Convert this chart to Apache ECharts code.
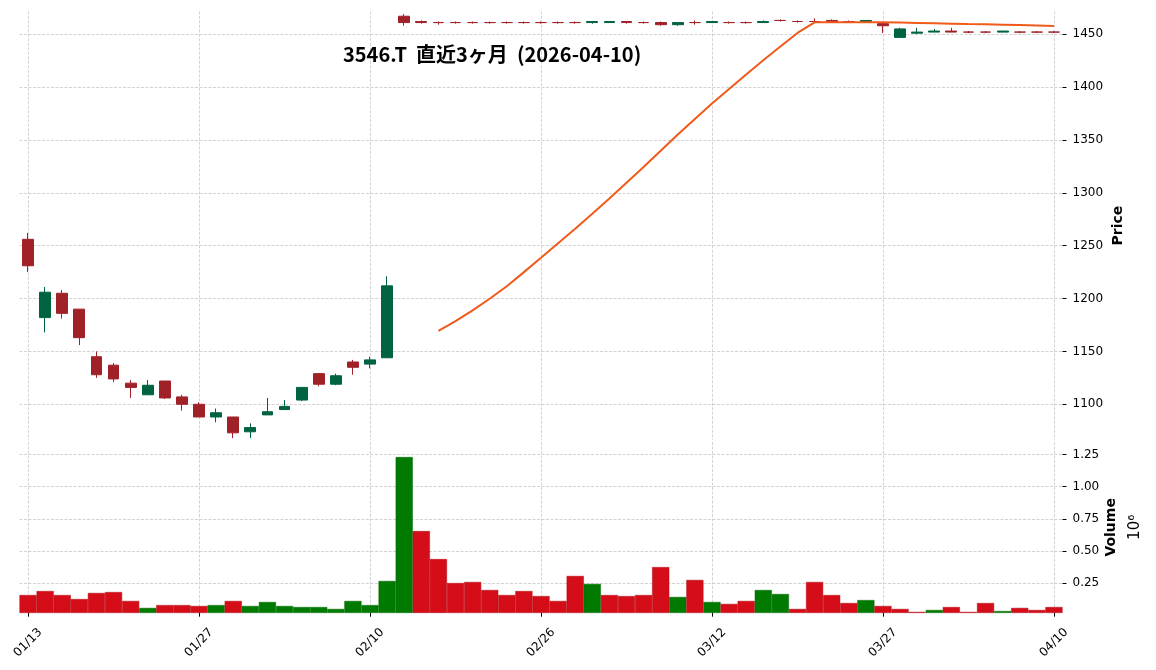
<!DOCTYPE html>
<html><head><meta charset="utf-8">
<script src="https://cdn.jsdelivr.net/npm/echarts@6/dist/echarts.min.js"></script>
<style>html,body{margin:0;padding:0;background:#fff}#c{width:1156px;height:670px}</style>
</head><body><div id="c"></div>
<script>
const dates = ['01/13','01/14','01/15','01/16','01/19','01/20','01/21','01/22','01/23','01/26',
'01/27','01/28','01/29','01/30','02/02','02/03','02/04','02/05','02/06','02/09',
'02/10','02/12','02/13','02/16','02/17','02/18','02/19','02/20','02/24','02/25',
'02/26','02/27','03/02','03/03','03/04','03/05','03/06','03/09','03/10','03/11',
'03/12','03/13','03/16','03/17','03/18','03/19','03/23','03/24','03/25','03/26',
'03/27','03/30','03/31','04/01','04/02','04/03','04/06','04/07','04/08','04/09',
'04/10'];
const opens = [1256,1182,1205,1190,1145,1137,1120,1109,1122,1107,
1100,1088,1088,1074,1090,1095,1104,1129,1119,1140,
1138,1144,1467,1462,1461,1461,1461,1461,1461,1461,
1461,1461,1461,1461,1461,1462,1461,1461,1459,1461,
1461,1461,1461,1461,1463,1462,1462,1463,1462,1462,
1460,1447,1451,1452,1453,1452,1452,1452,1452,1452,
1452];
const closes = [1231,1206,1186,1163,1128,1124,1116,1118,1106,1100,
1088,1092,1073,1078,1093,1098,1116,1119,1127,1135,
1142,1212,1461,1461,1461,1461,1461,1461,1461,1461,
1461,1461,1461,1462,1462,1461,1461,1459,1461,1461,
1462,1461,1461,1462,1463,1462,1462,1462,1462,1463,
1458,1455,1452,1453,1452,1452,1452,1453,1452,1452,
1452];
const lows = [1225,1168,1181,1156,1125,1121,1106,1109,1105,1094,
1088,1083,1068,1068,1090,1095,1103,1117,1118,1128,
1134,1144,1458,1460,1459,1460,1460,1460,1460,1460,
1460,1460,1460,1460,1461,1460,1460,1458,1458,1459,
1461,1460,1460,1461,1462,1461,1461,1461,1461,1462,
1451,1447,1450,1452,1452,1451,1451,1452,1451,1451,
1451];
const highs = [1262,1211,1208,1190,1150,1139,1123,1123,1122,1109,
1102,1096,1088,1082,1106,1104,1116,1129,1129,1142,
1145,1221,1469,1463,1462,1462,1462,1462,1462,1462,
1462,1462,1462,1462,1462,1462,1462,1462,1461,1463,
1462,1462,1462,1463,1464,1463,1465,1464,1463,1463,
1461,1456,1456,1455,1456,1453,1453,1453,1453,1453,
1453];
const volumes = [159000,190000,159000,128000,175000,182000,113000,59000,81000,81000,
74000,81000,113000,74000,105000,74000,66000,66000,51000,113000,
81000,268000,1229000,655000,438000,252000,260000,198000,159000,190000,
151000,113000,307000,245000,159000,151000,159000,376000,144000,276000,
105000,90000,113000,198000,167000,51000,260000,159000,97000,120000,
74000,51000,28000,43000,66000,28000,97000,35000,59000,43000,
66000];
const ma25 = [null,null,null,null,null,null,null,null,null,null,
null,null,null,null,null,null,null,null,null,null,
null,null,null,null,1169.4,1178.6,1188.8,1199.8,1211.7,1225.0,
1238.5,1252.3,1266.0,1280.2,1294.7,1309.6,1324.4,1339.8,1355.1,1369.9,
1384.4,1398.2,1411.9,1425.3,1438.4,1451.2,1461.2,1461.3,1461.3,1461.4,
1461.3,1461.0,1460.7,1460.4,1460.0,1459.6,1459.3,1459.0,1458.6,1458.2,
1457.8];
const titleText = '3546.T  直近3ヶ月  (2026-04-10)';

const UP = '#006340', DOWN = '#a02128', VUP = '#007a00', VDOWN = '#d50d18', MAC = '#f05a1a';
const GRIDLINE = {color: '#c8c8c8', width: 0.8, type: [3, 1.5]};
const FONT = 'DejaVu Sans';

const candleData = dates.map((d, i) => {
  const item = {value: [opens[i], closes[i], lows[i], highs[i]]};
  if (opens[i] === closes[i]) {
    item.itemStyle = {color: DOWN, color0: DOWN, borderColor: DOWN, borderColor0: DOWN};
  }
  return item;
});
const volData = volumes.map((v, i) => {
  const up = i === 0 ? opens[0] < closes[0] : closes[i - 1] < closes[i];
  return {value: v, itemStyle: {color: up ? VUP : VDOWN, borderColor: up ? '#006a00' : '#b00a14', borderWidth: 0.5}};
});

const chart = echarts.init(document.getElementById('c'), null, {renderer: 'canvas'});
chart.setOption({
  animation: false,
  backgroundColor: '#fff',
  title: {text: titleText, left: 338, top: 39,
    textStyle: {fontFamily: 'Noto Sans CJK JP', fontWeight: 'bold', fontSize: 20, color: '#000'}},
  grid: [
    {left: 19.5, right: 93.5, top: 11.3, height: 428.7},
    {left: 19.5, right: 93.5, top: 442, height: 170.7}
  ],
  xAxis: [
    {type: 'category', gridIndex: 0, data: dates, boundaryGap: true,
     axisLine: {show: false}, axisTick: {show: false}, axisLabel: {show: false},
     splitLine: {show: true, interval: 9, alignWithLabel: true, lineStyle: GRIDLINE}},
    {type: 'category', gridIndex: 1, data: dates, boundaryGap: true,
     axisLine: {show: false},
     axisTick: {show: true, interval: 9, alignWithLabel: true, length: 4, lineStyle: {color: '#000', width: 1}},
     axisLabel: {interval: 9, rotate: 45, align: 'center', verticalAlign: 'middle', margin: 30,
       fontFamily: FONT, fontSize: 12, color: '#000'},
     splitLine: {show: true, interval: 9, alignWithLabel: true, lineStyle: GRIDLINE}}
  ],
  yAxis: [
    {type: 'value', gridIndex: 0, position: 'right', min: 1066.24, max: 1471.66,
     minInterval: 50, maxInterval: 50, scale: true,
     axisLine: {show: false},
     axisTick: {show: true, length: 4, lineStyle: {color: '#000', width: 1}},
     axisLabel: {margin: 10, showMinLabel: false, showMaxLabel: false, fontFamily: FONT, fontSize: 12, color: '#000',
       formatter: v => String(Math.round(v))},
     splitLine: {show: true, showMinLine: false, showMaxLine: false, lineStyle: GRIDLINE},
     name: 'Price', nameLocation: 'middle', nameRotate: 90, nameGap: 49, nameMoveOverlap: false,
     nameTextStyle: {fontFamily: FONT, fontWeight: 'bold', fontSize: 14, color: '#000'}},
    {type: 'value', gridIndex: 1, position: 'right', min: 22000, max: 1346000,
     minInterval: 250000, maxInterval: 250000,
     axisLine: {show: false},
     axisTick: {show: true, length: 4, lineStyle: {color: '#000', width: 1}},
     axisLabel: {margin: 10, showMinLabel: false, showMaxLabel: false, fontFamily: FONT, fontSize: 12, color: '#000',
       formatter: v => (v / 1e6).toFixed(2)},
     splitLine: {show: true, showMinLine: false, showMaxLine: false, lineStyle: GRIDLINE},
     name: '{a|Volume}\n{b|10⁶}', nameLocation: 'middle', nameRotate: 90, nameGap: 37, nameMoveOverlap: false,
     nameTextStyle: {color: '#000', rich: {
       a: {fontFamily: FONT, fontWeight: 'bold', fontSize: 14, lineHeight: 24, color: '#000'},
       b: {fontFamily: FONT, fontSize: 15, lineHeight: 24, color: '#000'}}}}
  ],
  series: [
    {type: 'candlestick', xAxisIndex: 0, yAxisIndex: 0, data: candleData, barWidth: '66%',
     itemStyle: {color: UP, color0: DOWN, borderColor: UP, borderColor0: DOWN, borderWidth: 1}},
    {type: 'line', xAxisIndex: 0, yAxisIndex: 0, data: ma25, symbol: 'none', showSymbol: false,
     lineStyle: {color: MAC, width: 2}, z: 5},
    {type: 'bar', xAxisIndex: 1, yAxisIndex: 1, data: volData, barCategoryGap: '0%'}
  ]
});
</script></body></html>
